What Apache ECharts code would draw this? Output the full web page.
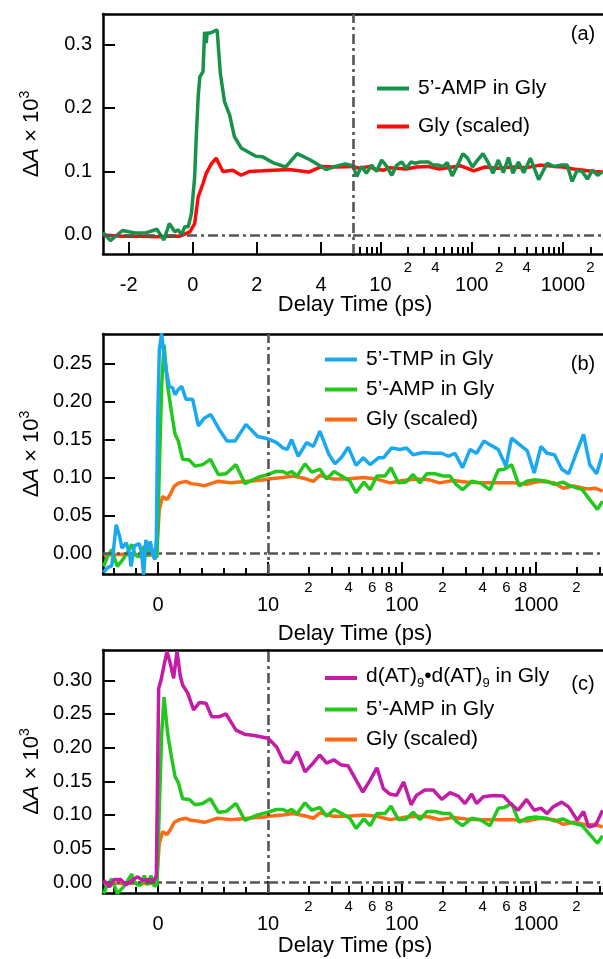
<!DOCTYPE html>
<html><head><meta charset="utf-8">
<script src="https://cdn.jsdelivr.net/npm/echarts@6/dist/echarts.min.js"></script>
<style>html,body{margin:0;padding:0;background:#fff}#c{width:603px;height:959px}</style>
</head><body><div id="c"></div>
<script>
// ---------------- data (delay time in ps, ΔA × 10^3) ----------------
const ampA = [[-2.8,0.004],[-2.57,-0.009],[-2.19,0.007],[-1.8,0.003],[-1.49,0.003],[-1.12,0.009],[-0.9,-0.008],[-0.73,0.018],[-0.56,0.005],[-0.45,0.008],[-0.35,0.0],[-0.25,0.013],[-0.14,0.013],[-0.04,0.034],[0.06,0.092],[0.11,0.155],[0.17,0.218],[0.22,0.249],[0.27,0.246],[0.32,0.257],[0.37,0.32],[0.42,0.302],[0.45,0.318],[0.53,0.318],[0.63,0.32],[0.76,0.323],[0.86,0.255],[0.99,0.21],[1.15,0.189],[1.3,0.155],[1.51,0.137],[1.97,0.124],[2.18,0.123],[2.54,0.113],[2.9,0.107],[3.26,0.128],[3.67,0.118],[4.16,0.103],[4.45,0.108],[4.76,0.112],[5,0.109],[5.5,0.092],[6.2,0.108],[7.0,0.097],[8.0,0.110],[9.1,0.1],[10.3,0.118],[11.7,0.108],[13.3,0.094],[15.1,0.11],[17.1,0.115],[19.2,0.105],[21.6,0.115],[24,0.113],[27.3,0.115],[33.5,0.115],[38,0.11],[43,0.11],[49,0.108],[54,0.114],[61,0.093],[69,0.108],[80,0.128],[90,0.121],[102,0.107],[116,0.118],[133,0.128],[153,0.113],[171,0.097],[196,0.118],[222,0.098],[253,0.122],[283,0.097],[325,0.115],[372,0.098],[440,0.121],[542,0.087],[671,0.113],[793,0.108],[940,0.11],[1113,0.11],[1260,0.084],[1433,0.102],[1625,0.1],[1855,0.088],[2110,0.102],[2400,0.094],[2740,0.1]];
const glyA = [[-2.8,0.0],[-2.2,-0.002],[-1.6,-0.002],[-1.12,-0.003],[-0.7,-0.002],[-0.4,-0.002],[-0.09,0.005],[0.06,0.018],[0.17,0.06],[0.32,0.081],[0.42,0.097],[0.58,0.112],[0.73,0.121],[0.94,0.1],[1.25,0.102],[1.51,0.094],[1.76,0.1],[2.18,0.101],[3.0,0.103],[3.62,0.099],[4.03,0.108],[4.5,0.107],[5,0.108],[5.8,0.105],[7.7,0.108],[8.5,0.104],[10.9,0.102],[12.5,0.106],[15,0.105],[19,0.104],[25,0.107],[33,0.108],[44,0.104],[55,0.106],[75,0.109],[90,0.105],[105,0.101],[140,0.107],[190,0.105],[285,0.107],[400,0.106],[560,0.11],[790,0.108],[1000,0.107],[1300,0.104],[1700,0.102],[2200,0.1],[2740,0.099]];
const tmpB = [[-4.94,-0.025],[-4.6,-0.019],[-4.2,-0.016],[-3.8,0.038],[-3.5,0.023],[-3.27,0.007],[-2.9,0.014],[-2.6,0.001],[-2.45,-0.017],[-2.15,0.01],[-1.7,0.013],[-1.5,0.001],[-1.3,-0.028],[-1.1,0.018],[-0.88,0.005],[-0.7,0.016],[-0.5,-0.001],[-0.27,-0.008],[-0.15,0.02],[-0.03,0.176],[0.12,0.268],[0.33,0.29],[0.52,0.264],[0.73,0.242],[1.03,0.22],[1.33,0.218],[1.55,0.209],[1.85,0.216],[2.15,0.22],[2.55,0.203],[3.15,0.203],[3.67,0.168],[4.2,0.178],[4.8,0.183],[5.58,0.163],[6.27,0.148],[7.0,0.148],[8.0,0.17],[9.06,0.154],[10,0.151],[11.6,0.146],[12.9,0.139],[13.9,0.137],[15.0,0.15],[16.8,0.128],[19.4,0.146],[21.8,0.141],[24.4,0.161],[28.2,0.132],[31.6,0.118],[35.5,0.127],[39.7,0.14],[45.4,0.116],[51.5,0.126],[57.8,0.117],[66.6,0.126],[72.6,0.126],[83.6,0.139],[96.6,0.137],[108,0.139],[121,0.13],[144,0.133],[171,0.132],[198,0.132],[222,0.128],[248,0.132],[283,0.113],[322,0.137],[360,0.132],[408,0.148],[466,0.142],[523,0.137],[596,0.115],[657,0.152],[758,0.143],[861,0.135],[969,0.106],[1088,0.141],[1208,0.132],[1372,0.13],[1558,0.111],[1750,0.105],[1996,0.132],[2262,0.157],[2516,0.117],[2831,0.105],[3140,0.132]];
const ampBC = [[-4.94,-0.017],[-4.6,-0.004],[-4.2,0.005],[-3.7,-0.017],[-3.2,-0.008],[-2.8,0.001],[-2.4,0.012],[-2.15,0.001],[-1.85,-0.004],[-1.55,-0.004],[-1.24,0.01],[-0.94,-0.004],[-0.64,0.01],[-0.33,-0.006],[-0.09,-0.004],[0.12,0.111],[0.33,0.22],[0.55,0.275],[0.88,0.22],[1.24,0.185],[1.55,0.157],[1.85,0.148],[2.24,0.124],[2.85,0.123],[3.36,0.115],[4.06,0.117],[4.76,0.124],[5.48,0.104],[6.18,0.105],[7.09,0.117],[7.9,0.092],[9.06,0.1],[10,0.104],[11.5,0.108],[12.9,0.108],[13.9,0.105],[15,0.108],[16.5,0.102],[18.9,0.118],[21.2,0.107],[24.4,0.111],[27.4,0.098],[31.1,0.108],[35.5,0.102],[40.9,0.095],[45.4,0.08],[52,0.094],[57.8,0.084],[64.9,0.102],[74.7,0.102],[82.7,0.113],[93.9,0.093],[107,0.094],[121,0.104],[136,0.093],[153,0.105],[176,0.105],[203,0.102],[228,0.102],[253,0.091],[283,0.084],[331,0.095],[382,0.093],[453,0.084],[523,0.11],[578,0.111],[657,0.117],[748,0.089],[850,0.095],[980,0.097],[1208,0.095],[1372,0.091],[1584,0.094],[1800,0.089],[2213,0.084],[2516,0.071],[2870,0.058],[3140,0.069]];
const glyBC = [[-4.94,-0.002],[-3,-0.001],[-1.5,-0.002],[-0.18,-0.002],[-0.03,0.023],[0.12,0.058],[0.42,0.075],[0.82,0.071],[1.12,0.078],[1.48,0.089],[1.94,0.093],[2.55,0.095],[3.0,0.092],[3.6,0.091],[4.2,0.089],[4.8,0.092],[5.4,0.095],[6.6,0.093],[7.4,0.094],[8.2,0.095],[9.0,0.096],[9.7,0.097],[10,0.098],[12.9,0.1],[15.5,0.102],[19.4,0.098],[21.8,0.095],[24.4,0.103],[30.6,0.098],[38.5,0.098],[51.5,0.1],[64.9,0.098],[81.2,0.093],[101,0.096],[128,0.098],[160,0.097],[190,0.093],[240,0.096],[300,0.094],[382,0.093],[510,0.093],[680,0.093],[850,0.091],[1060,0.095],[1360,0.093],[1600,0.086],[1910,0.089],[2400,0.085],[2760,0.086],[3140,0.082]];
const datC = [[-4.94,0.003],[-4.4,-0.007],[-4.0,0.004],[-3.4,0.004],[-2.9,-0.004],[-2.45,0.002],[-1.85,0.008],[-1.4,0.003],[-0.8,0.004],[-0.33,0.003],[-0.15,0.01],[0.06,0.288],[0.27,0.3],[0.52,0.32],[0.82,0.343],[1.12,0.325],[1.42,0.303],[1.73,0.343],[2.03,0.306],[2.24,0.293],[2.7,0.281],[3.24,0.256],[3.76,0.267],[4.36,0.266],[4.88,0.246],[5.58,0.246],[6.18,0.25],[7.09,0.226],[7.85,0.22],[8.76,0.218],[10,0.214],[11.6,0.201],[13.1,0.179],[14.7,0.178],[16.5,0.194],[18.9,0.164],[21.7,0.177],[24.3,0.189],[27.4,0.177],[31,0.182],[35.2,0.174],[39.6,0.173],[44.8,0.154],[51,0.134],[57.5,0.151],[65,0.17],[72.6,0.139],[81.2,0.131],[91,0.129],[103,0.149],[117,0.115],[128,0.129],[148,0.137],[171,0.137],[198,0.123],[228,0.133],[263,0.128],[295,0.117],[331,0.131],[360,0.117],[404,0.127],[480,0.129],[570,0.128],[636,0.118],[735,0.107],[850,0.123],[969,0.107],[1088,0.11],[1208,0.102],[1340,0.112],[1558,0.119],[1750,0.112],[2032,0.092],[2262,0.105],[2470,0.082],[2790,0.085],[3140,0.107]];

// tick values / labels
const yTicksA = [0, 0.1, 0.2, 0.3];
const yTicksB = [0, 0.05, 0.10, 0.15, 0.20, 0.25];
const yTicksC = [0, 0.05, 0.10, 0.15, 0.20, 0.25, 0.30];
const linTicksA = [-2, 0, 2, 4];
const linLabelsBC = [0];
const linMinorBC = [-4, -2, 2, 4, 6, 8];
const logMajor = [10, 100, 1000];
const logMinorA = [6,7,8,9,20,30,40,50,60,70,80,90,200,300,400,500,600,700,800,900,2000];
const logMinorBC = [20,30,40,50,60,70,80,90,200,300,400,500,600,700,800,900,2000,3000];
const logMinorLabelsA = [20, 40, 200, 400, 2000];
const logMinorLabelsBC = [20, 40, 60, 80, 200, 400, 600, 800, 2000];

const LABELS = {
  'a:amp': '5’-AMP in Gly', 'a:gly': 'Gly (scaled)',
  'b:tmp': '5’-TMP in Gly', 'b:amp': '5’-AMP in Gly', 'b:gly': 'Gly (scaled)',
  'c:dat': '{m|d(AT)}{s|9}{m|•d(AT)}{s|9}{m| in Gly}', 'c:amp': '5’-AMP in Gly', 'c:gly': 'Gly (scaled)'
};

// ---------------- build ----------------
const FONT = '"Liberation Sans", Arial, Helvetica, sans-serif';
const AX = {color: '#000', width: 2.5};
const GUIDE = {color: '#555555', width: 2.6, type: [10, 4, 3, 4]};
const grids = [], xAxes = [], yAxes = [], series = [];

function tickAxis(grid, type, min, max, ticks, labels, len, opts) {
  const ax = {
    gridIndex: grid, type: type, min: min, max: max, position: 'bottom',
    axisLine: {show: !!opts.line, onZero: false, lineStyle: AX},
    axisTick: {show: true, inside: true, length: len, customValues: ticks, lineStyle: {color: '#000', width: 2}},
    axisLabel: labels ? {show: true, customValues: labels, margin: opts.margin, fontSize: opts.fs, fontFamily: FONT, color: '#000', formatter: opts.fmt} : {show: false},
    splitLine: {show: false}, axisPointer: {show: false}
  };
  if (type === 'log') ax.logBase = 10;
  return ax;
}
function topAxis(grid, type, min, max) {
  const ax = {gridIndex: grid, type: type, min: min, max: max, position: 'top',
    axisLine: {show: true, onZero: false, lineStyle: AX}, axisTick: {show: false}, axisLabel: {show: false}, splitLine: {show: false}};
  if (type === 'log') ax.logBase = 10;
  return ax;
}
const yName = '{d|Δ}{i|A}{n| × 10}{s|3}';
const yRich = {
  d: {fontSize: 22, fontFamily: FONT, color: '#000', verticalAlign: 'bottom'},
  i: {fontSize: 22, fontFamily: FONT, color: '#000', fontStyle: 'italic', verticalAlign: 'bottom'},
  n: {fontSize: 22, fontFamily: FONT, color: '#000', verticalAlign: 'bottom'},
  s: {fontSize: 14, fontFamily: FONT, color: '#000', verticalAlign: 'bottom', padding: [0, 0, 11, 0]}
};

function addPanel(p) {
  const gLin = grids.length; grids.push({left: 103, top: p.top, width: p.brkX - 103, height: p.h});
  const gLog = grids.length; grids.push({left: p.brkX, top: p.top, width: 603 - p.brkX, height: p.h});
  const xLin = xAxes.length;
  xAxes.push(tickAxis(gLin, 'value', p.xmin, p.brk, p.linTicks, p.linLabels, 12, {line: true, margin: 21, fs: 20, fmt: v => String(v)}));
  if (p.linMinor) xAxes.push(tickAxis(gLin, 'value', p.xmin, p.brk, p.linMinor, null, 6, {line: false}));
  xAxes.push(topAxis(gLin, 'value', p.xmin, p.brk));
  const xLog = xAxes.length;
  xAxes.push(tickAxis(gLog, 'log', p.brk, p.xmax, logMajor, logMajor, 12, {line: true, margin: 21, fs: 20, fmt: v => String(Math.round(v))}));
  xAxes.push(tickAxis(gLog, 'log', p.brk, p.xmax, p.logMinor, p.logMinorLabels, 7, {line: false, margin: 6, fs: 15, fmt: v => String(Math.round(v)).charAt(0)}));
  xAxes.push(topAxis(gLog, 'log', p.brk, p.xmax));
  const yLin = yAxes.length;
  yAxes.push({gridIndex: gLin, type: 'value', min: p.ymin, max: p.ymax,
    axisLine: {show: true, onZero: false, lineStyle: AX},
    axisTick: {show: true, inside: true, length: 12, customValues: p.yTicks, lineStyle: {color: '#000', width: 2}},
    axisLabel: {customValues: p.yTicks, margin: 11, fontSize: 20, fontFamily: FONT, color: '#000', formatter: v => v.toFixed(p.yDec)},
    splitLine: {show: false},
    name: yName, nameLocation: 'middle', nameGap: 60, nameTextStyle: {rich: yRich}});
  const yLog = yAxes.length;
  yAxes.push({gridIndex: gLog, type: 'value', min: p.ymin, max: p.ymax, show: false, splitLine: {show: false}});
  const ml = (data) => ({silent: true, symbol: ['none', 'none'], label: {show: false}, lineStyle: GUIDE, emphasis: {disabled: true}, data: data, animation: false});
  series.push({type: 'line', xAxisIndex: xLin, yAxisIndex: yLin, data: [], clip: false, silent: true, z: 1, markLine: ml([{yAxis: 0}])});
  series.push({type: 'line', xAxisIndex: xLog, yAxisIndex: yLog, data: [], clip: false, silent: true, z: 1, markLine: ml([{yAxis: 0}, {xAxis: p.brk}])});
  p.series.forEach((s, k) => {
    const common = {type: 'line', name: s.key, showSymbol: false, symbol: 'none', lineStyle: {color: s.color, width: 3.5}, itemStyle: {color: s.color}, z: 3 + k, animation: false};
    series.push(Object.assign({}, common, {xAxisIndex: xLin, yAxisIndex: yLin, data: s.data.filter(d => d[0] <= p.brk)}));
    series.push(Object.assign({}, common, {xAxisIndex: xLog, yAxisIndex: yLog, data: s.data.filter(d => d[0] >= p.brk)}));
  });
}

const DKGREEN = '#16924a', RED = '#ff0a0a', BLUE = '#1aa8f0', GREEN = '#22c81c', ORANGE = '#ff6a14', MAGENTA = '#c41ca6';

addPanel({top: 14, h: 240, brk: 5, brkX: 353, xmin: -2.8, xmax: 2750, ymin: -0.03, ymax: 0.348, yTicks: yTicksA, yDec: 1,
  linTicks: linTicksA, linLabels: linTicksA, linMinor: null, logMinor: logMinorA, logMinorLabels: logMinorLabelsA,
  series: [{key: 'a:gly', color: RED, data: glyA}, {key: 'a:amp', color: DKGREEN, data: ampA}]});
addPanel({top: 334, h: 240, brk: 10, brkX: 268, xmin: -5, xmax: 3160, ymin: -0.027, ymax: 0.289, yTicks: yTicksB, yDec: 2,
  linTicks: linLabelsBC, linLabels: linLabelsBC, linMinor: linMinorBC, logMinor: logMinorBC, logMinorLabels: logMinorLabelsBC,
  series: [{key: 'b:gly', color: ORANGE, data: glyBC}, {key: 'b:amp', color: GREEN, data: ampBC}, {key: 'b:tmp', color: BLUE, data: tmpB}]});
addPanel({top: 650, h: 243, brk: 10, brkX: 268, xmin: -5, xmax: 3160, ymin: -0.016, ymax: 0.345, yTicks: yTicksC, yDec: 2,
  linTicks: linLabelsBC, linLabels: linLabelsBC, linMinor: linMinorBC, logMinor: logMinorBC, logMinorLabels: logMinorLabelsBC,
  series: [{key: 'c:gly', color: ORANGE, data: glyBC}, {key: 'c:amp', color: GREEN, data: ampBC}, {key: 'c:dat', color: MAGENTA, data: datC}]});

const legRich = {
  m: {fontSize: 21, fontFamily: FONT, color: '#000', verticalAlign: 'bottom', padding: [0, 0, 3, 0]},
  s: {fontSize: 13, fontFamily: FONT, color: '#000', verticalAlign: 'bottom'}
};
function legend(data, left, top, gap) {
  return {data: data, orient: 'vertical', left: left, top: top, itemWidth: 32, itemHeight: 4, icon: 'rect', itemGap: gap,
    formatter: n => LABELS[n], selectedMode: false,
    textStyle: {fontSize: 21, fontFamily: FONT, color: '#000', padding: [0, 0, 0, 4], rich: legRich}};
}
function txt(s, x, y, fs) {
  return {type: 'text', x: x, y: y, silent: true, style: {text: s, fontSize: fs, fontFamily: FONT, fill: '#000', align: 'center', verticalAlign: 'middle'}};
}

const chart = echarts.init(document.getElementById('c'), null, {renderer: 'canvas'});
chart.setOption({
  animation: false, backgroundColor: '#fff',
  grid: grids, xAxis: xAxes, yAxis: yAxes, series: series,
  legend: [legend(['a:amp', 'a:gly'], 372, 73, 17), legend(['b:tmp', 'b:amp', 'b:gly'], 320, 344, 9), legend(['c:dat', 'c:amp', 'c:gly'], 320, 661, 9)],
  graphic: [txt('(a)', 583, 34, 20), txt('(b)', 583, 364, 20), txt('(c)', 583, 684, 20),
    txt('Delay Time (ps)', 355, 305, 22), txt('Delay Time (ps)', 355, 634, 22), txt('Delay Time (ps)', 355, 946, 22)]
});
</script></body></html>
